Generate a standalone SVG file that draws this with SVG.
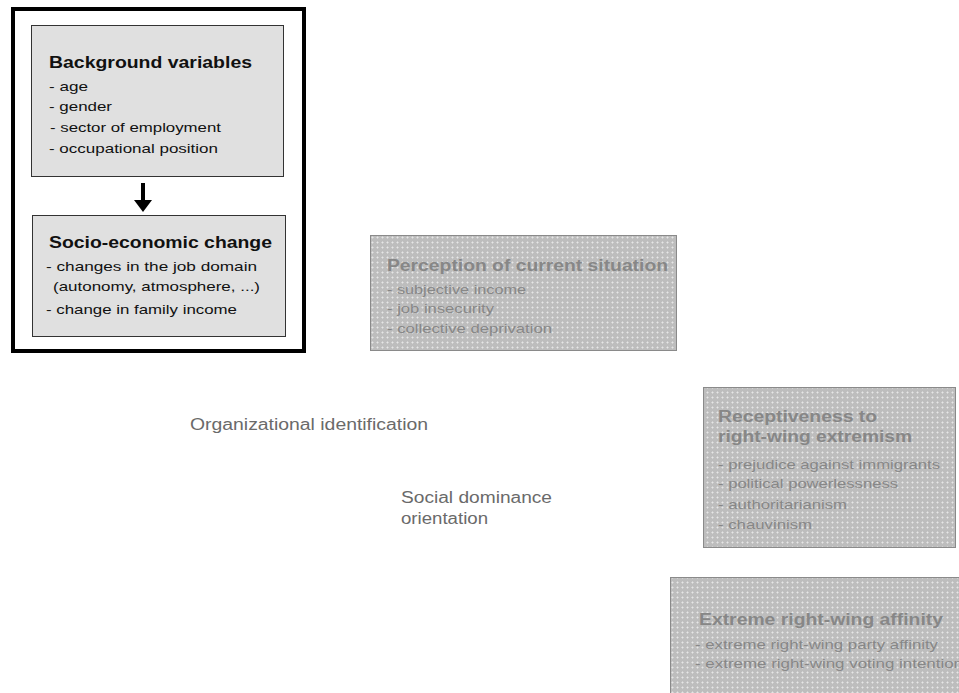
<svg xmlns="http://www.w3.org/2000/svg" width="959" height="693" viewBox="0 0 959 693">
<style>
.t{font-family:"Liberation Sans",Arial,sans-serif}
.h{font-weight:bold;font-size:16px}
.s{font-size:13px}
.dk{fill:#111}
.gy{fill:#878787}
.lbl{font-size:16px;fill:#6a6a6a}
.lb{fill:#e0e0e0;stroke:#333;stroke-width:1}
.db{fill:url(#dots);stroke:#8a8a8a;stroke-width:1}
</style>
<defs>
<pattern id="dots" width="5" height="5" patternUnits="userSpaceOnUse">
<rect width="5" height="5" fill="#bdbdbd"/>
<rect x="2" y="1" width="1" height="3" fill="#d2d2d2"/>
<rect x="1" y="2" width="3" height="1" fill="#d2d2d2"/>
<rect x="2" y="2" width="1" height="1" fill="#e6e6e6"/>
</pattern>
</defs>
<rect x="13" y="9" width="291" height="342" fill="#fff" stroke="#000" stroke-width="4"/>
<g id="background">
<rect class="lb" x="31.5" y="25.5" width="252" height="151"/>
<text class="t h dk" x="49" y="68" textLength="203" lengthAdjust="spacingAndGlyphs">Background variables</text>
<text class="t s dk" x="49" y="91" textLength="39" lengthAdjust="spacingAndGlyphs">- age</text>
<text class="t s dk" x="49" y="111" textLength="63" lengthAdjust="spacingAndGlyphs">- gender</text>
<text class="t s dk" x="50" y="132" textLength="171" lengthAdjust="spacingAndGlyphs">- sector of employment</text>
<text class="t s dk" x="49" y="153" textLength="169" lengthAdjust="spacingAndGlyphs">- occupational position</text>
</g>
<g id="socio">
<rect class="lb" x="32.5" y="215.5" width="253" height="121"/>
<text class="t h dk" x="49" y="248" textLength="223" lengthAdjust="spacingAndGlyphs">Socio-economic change</text>
<text class="t s dk" x="46" y="271" textLength="211" lengthAdjust="spacingAndGlyphs">- changes in the job domain</text>
<text class="t s dk" x="53" y="291" textLength="207" lengthAdjust="spacingAndGlyphs">(autonomy, atmosphere, ...)</text>
<text class="t s dk" x="46" y="314" textLength="191" lengthAdjust="spacingAndGlyphs">- change in family income</text>
</g>
<g id="perception">
<rect class="db" x="370.5" y="235.5" width="306" height="115"/>
<text class="t h gy" x="387" y="271" textLength="281" lengthAdjust="spacingAndGlyphs">Perception of current situation</text>
<text class="t s gy" x="387" y="294" textLength="139" lengthAdjust="spacingAndGlyphs">- subjective income</text>
<text class="t s gy" x="387" y="313" textLength="107" lengthAdjust="spacingAndGlyphs">- job insecurity</text>
<text class="t s gy" x="387" y="333" textLength="165" lengthAdjust="spacingAndGlyphs">- collective deprivation</text>
</g>
<g id="receptiveness">
<rect class="db" x="703.5" y="387.5" width="252" height="160"/>
<text class="t h gy" x="718" y="422" textLength="159" lengthAdjust="spacingAndGlyphs">Receptiveness to</text>
<text class="t h gy" x="718" y="442" textLength="194" lengthAdjust="spacingAndGlyphs">right-wing extremism</text>
<text class="t s gy" x="718" y="469" textLength="222" lengthAdjust="spacingAndGlyphs">- prejudice against immigrants</text>
<text class="t s gy" x="718" y="488" textLength="180" lengthAdjust="spacingAndGlyphs">- political powerlessness</text>
<text class="t s gy" x="718" y="509" textLength="129" lengthAdjust="spacingAndGlyphs">- authoritarianism</text>
<text class="t s gy" x="718" y="529" textLength="94" lengthAdjust="spacingAndGlyphs">- chauvinism</text>
</g>
<g id="extreme">
<rect class="db" x="670.5" y="577.5" width="300" height="130"/>
<text class="t h gy" x="699" y="625" textLength="244" lengthAdjust="spacingAndGlyphs">Extreme right-wing affinity</text>
<text class="t s gy" x="695" y="649" textLength="243" lengthAdjust="spacingAndGlyphs">- extreme right-wing party affinity</text>
<text class="t s gy" x="695" y="668" textLength="268" lengthAdjust="spacingAndGlyphs">- extreme right-wing voting intention</text>
</g>
<g id="orgid">
<text class="t lbl" x="190" y="430" textLength="238" lengthAdjust="spacingAndGlyphs">Organizational identification</text>
</g>
<g id="sdo">
<text class="t lbl" x="401" y="503" textLength="151" lengthAdjust="spacingAndGlyphs">Social dominance</text>
<text class="t lbl" x="401" y="524" textLength="87" lengthAdjust="spacingAndGlyphs">orientation</text>
</g>
<g id="connectors">
<rect x="141" y="183" width="4" height="18" fill="#000"/>
<path d="M134,200 L152,200 L143,212 Z" fill="#000"/>
</g>
</svg>
